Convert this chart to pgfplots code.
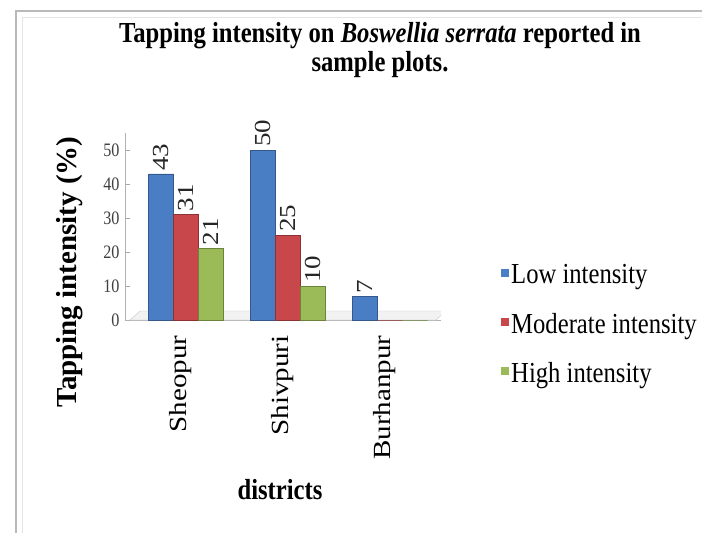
\documentclass[border=0pt]{standalone}
\usepackage{fontspec}
\setmainfont{Liberation Serif}
% narrow cut of the serif for horizontal text
\newfontfamily\nfont[FakeStretch=0.85]{Liberation Serif}
\usepackage{pgfplots}
\pgfplotsset{compat=1.18}

\definecolor{lowc}{HTML}{4A7EC4}
\definecolor{modc}{HTML}{C8474A}
\definecolor{highc}{HTML}{9BBB59}

\begin{document}
\begin{tikzpicture}
\path[use as bounding box] (0pt,0pt) rectangle (702pt,-533pt);
\fill[white] (0pt,0pt) rectangle (702pt,-533pt);
% chart frame
\draw[gray!55, line width=2.5pt] (16pt,-533pt) -- (16pt,-11pt) -- (702pt,-11pt);
\draw[gray!20, line width=1pt] (22pt,-533pt) -- (22pt,-17pt) -- (702pt,-17pt);

% title
\node[font=\nfont\bfseries\fontsize{29}{29}\selectfont, align=center]
  at (380pt,-50pt) {Tapping intensity on \textit{Boswellia serrata} reported in\\sample plots.};

\begin{axis}[
  at={(125pt,-320pt)}, anchor=south west,
  scale only axis, width=316pt, height=187pt,
  xmin=-0.6, xmax=2.5, ymin=0, ymax=55,
  ybar=0pt, bar width=25pt,
  axis x line*=bottom, axis y line*=left,
  axis line style={gray!60, line width=1pt, -},
  xtick={0,1,2}, xticklabels={Sheopur,Shivpuri,Burhanpur},
  x tick style={draw=none},
  % rotated labels: xshift moves down, yshift moves left
  xticklabel style={rotate=90, yscale=0.85, anchor=east, xshift=-7pt, yshift=7pt,
    font=\fontsize{29}{29}\selectfont},
  ytick={0,10,...,50},
  y tick style={gray!70, line width=0.8pt},
  major tick length=5pt,
  yticklabel style={font=\nfont\fontsize{19}{19}\selectfont, text=black!75, xshift=-2pt},
  /pgf/number format/assume math mode=true,
  point meta=explicit symbolic,
  nodes near coords,
  nodes near coords style={rotate=90, yscale=0.85, anchor=west,
    font=\fontsize{27}{27}\selectfont, text=black!85, inner sep=3pt},
  legend style={at={(rel axis cs:1.19,0.31)}, anchor=north west, draw=none, fill=none,
    font=\nfont\fontsize{29}{29}\selectfont, row sep=24pt, inner sep=0pt},
  legend cell align=left,
  legend image code/.code={\fill[#1, draw=none] (0pt,-2pt) rectangle (8pt,6pt);},
]
% floor plate under the columns
\fill[gray!10, draw=gray!45] (axis cs:-0.55,0) -- (axis cs:2.45,0)
  -- ([shift={(10pt,9pt)}]axis cs:2.45,0) -- ([shift={(10pt,9pt)}]axis cs:-0.55,0) -- cycle;
\addplot[fill=lowc, draw=lowc!70!black] coordinates {(0,43)[43] (1,50)[50] (2,7)[7]};
\addplot[fill=modc, draw=modc!70!black] coordinates {(0,31)[31] (1,25)[25] (2,0)[]};
\addplot[fill=highc, draw=highc!70!black] coordinates {(0,21)[21] (1,10)[10] (2,0)[]};
\legend{Low intensity, Moderate intensity, High intensity}
\end{axis}

% axis titles
\node[font=\bfseries\fontsize{29}{29}\selectfont, rotate=90] at (70pt,-272pt) {Tapping intensity (\%)};
\node[font=\nfont\bfseries\fontsize{29}{29}\selectfont] at (280pt,-490pt) {districts};
\end{tikzpicture}
\end{document}
